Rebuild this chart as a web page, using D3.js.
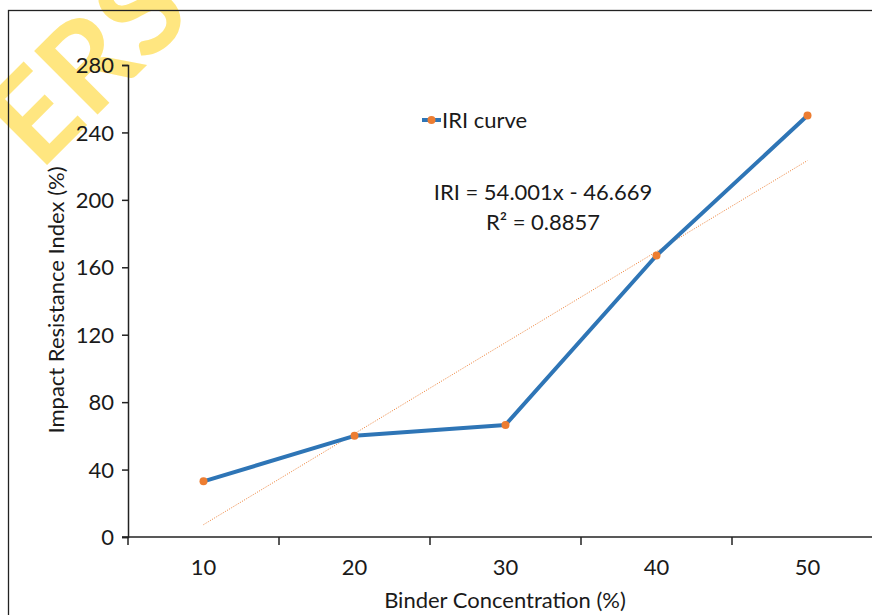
<!DOCTYPE html>
<html>
<head>
<meta charset="utf-8">
<script src="https://cdn.jsdelivr.net/npm/d3@7"></script>
<style>
  body { margin: 0; background: #fff; }
  text { font-family: Lato, "Open Sans", sans-serif; fill: #1a1a1a; }
</style>
</head>
<body>
<div id="plotSect"></div>
<script>
// data //
let categories = ["10", "20", "30", "40", "50"];
let iriValues = [33, 60, 66.5, 167, 250];
let yTicks = [0, 40, 80, 120, 160, 200, 240, 280];
let trendSlope = 54.001,
    trendIntercept = -46.669,
    trendR2 = 0.8857;

let SVGwidth = 872,
    SVGheight = 615,
    fontSize = "22px";

let svg = d3.select("#plotSect").append("svg")
    .attr("width", SVGwidth)
    .attr("height", SVGheight);

// watermark, sits under everything else
svg.append("text")
    .attr("transform", "translate(40,172) rotate(-45)")
    .style("font-size", "124px")
    .style("font-weight", "bold")
    .style("fill", "#FFE680")
    .style("font-family", "Lato, sans-serif")
    .text("ERS");

// outer frame, cut by the window on the right and bottom
svg.append("rect")
    .attr("x", 8.5)
    .attr("y", 10.5)
    .attr("width", 900)
    .attr("height", 700)
    .style("fill", "none")
    .style("stroke", "#222")
    .style("stroke-width", 1.3);

let xScale = d3.scaleBand().domain(categories).range([128, 883]),
    yScale = d3.scaleLinear().domain([0, 280]).range([537, 65]);

let xMap = function(d, i) { return xScale(categories[i]) + xScale.bandwidth() / 2; },
    yMap = function(d) { return yScale(d); };

// y axis
let yAxis = svg.append("g")
    .attr("transform", "translate(128,0)")
    .call(d3.axisLeft(yScale).tickValues(yTicks).tickSize(6).tickPadding(8));
yAxis.selectAll("text").style("font-size", fontSize).attr("dy", "0.35em");

// x axis (category boundaries)
let xAxis = svg.append("g")
    .attr("transform", "translate(0,537)");
xAxis.append("line")
    .attr("x1", 122).attr("x2", 883)
    .attr("y1", 0).attr("y2", 0);
xAxis.selectAll(".tick")
    .data(categories.concat(["end"]))
    .enter().append("line")
    .attr("x1", function(d, i) { return xScale.range()[0] + i * xScale.bandwidth(); })
    .attr("x2", function(d, i) { return xScale.range()[0] + i * xScale.bandwidth(); })
    .attr("y1", 0).attr("y2", 8);
xAxis.selectAll(".lbl")
    .data(categories)
    .enter().append("text")
    .attr("x", function(d) { return xScale(d) + xScale.bandwidth() / 2; })
    .attr("y", 30)
    .attr("dy", "0.35em")
    .style("text-anchor", "middle")
    .style("font-size", fontSize)
    .text(function(d) { return d; });

svg.selectAll(".domain, .tick line, g line")
    .style("stroke", "#222")
    .style("stroke-width", 1.5);

// axis titles
svg.append("text")
    .attr("transform", "translate(505,600)")
    .attr("dy", "0.35em")
    .style("text-anchor", "middle")
    .style("font-size", fontSize)
    .text("Binder Concentration (%)");

svg.append("text")
    .attr("transform", "translate(56,300) rotate(-90)")
    .attr("dy", "0.35em")
    .style("text-anchor", "middle")
    .style("font-size", fontSize)
    .text("Impact Resistance Index (%)");

// linear trendline
let trend = categories.map(function(c, i) { return trendSlope * (i + 1) + trendIntercept; });
svg.append("path")
    .datum(trend)
    .attr("d", d3.line().x(xMap).y(yMap))
    .style("fill", "none")
    .style("stroke", "#ED7D31")
    .style("stroke-width", 1)
    .style("stroke-dasharray", "1,1.5");

// main series
svg.append("path")
    .datum(iriValues)
    .attr("d", d3.line().x(xMap).y(yMap))
    .style("fill", "none")
    .style("stroke", "#2E75B6")
    .style("stroke-width", 4)
    .style("stroke-linejoin", "round");

svg.selectAll(".point")
    .data(iriValues)
    .enter().append("circle")
    .attr("class", "point")
    .attr("r", 4)
    .attr("cx", xMap)
    .attr("cy", yMap)
    .style("fill", "#ED7D31");

// legend
let legend = svg.append("g").attr("transform", "translate(422,120)");
legend.append("line")
    .attr("x1", 0).attr("x2", 19)
    .style("stroke", "#2E75B6")
    .style("stroke-width", 4);
legend.append("circle")
    .attr("cx", 9.5).attr("r", 4)
    .style("fill", "#ED7D31");
legend.append("text")
    .attr("x", 20)
    .attr("dy", "0.35em")
    .style("font-size", fontSize)
    .text("IRI curve");

// trendline equation
svg.append("text")
    .attr("x", 543).attr("y", 192)
    .attr("dy", "0.35em")
    .style("text-anchor", "middle")
    .style("font-size", fontSize)
    .text("IRI = " + trendSlope.toFixed(3) + "x - " + Math.abs(trendIntercept).toFixed(3));
svg.append("text")
    .attr("x", 543).attr("y", 222)
    .attr("dy", "0.35em")
    .style("text-anchor", "middle")
    .style("font-size", fontSize)
    .text("R² = " + trendR2);
</script>
</body>
</html>
